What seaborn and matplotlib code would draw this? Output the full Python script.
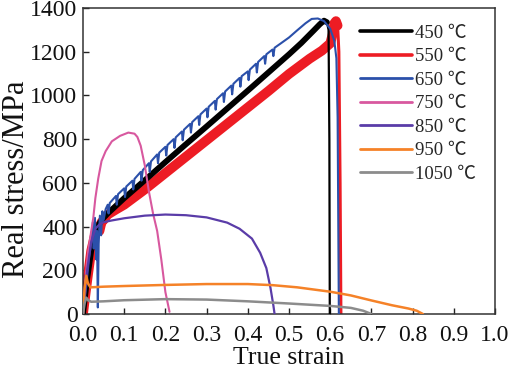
import matplotlib
matplotlib.use("Agg")
import matplotlib.pyplot as plt
from matplotlib.lines import Line2D
import seaborn as sns
import pandas as pd

# ---------------- data ----------------
labels = ["450 ℃", "550 ℃", "650 ℃", "750 ℃", "850 ℃", "950 ℃", "1050 ℃"]
colors = ["#000000", "#ed1c24", "#2b50aa", "#d8589f", "#5a3ca8", "#f58228", "#8c8c8c"]

strain_450 = [0, 0.01, 0.02, 0.03, 0.04, 0.05, 0.06, 0.1, 0.15, 0.2, 0.25, 0.3, 0.35, 0.4,
              0.45, 0.5, 0.53, 0.56, 0.575, 0.585, 0.592, 0.596, 0.598, 0.599]
stress_450 = [0, 160, 290, 370, 415, 440, 460, 530, 612, 695, 777, 858, 940, 1022,
              1105, 1188, 1240, 1297, 1326, 1342, 1335, 1300, 800, 0]

strain_550 = [0, 0.01, 0.02, 0.03, 0.035, 0.04, 0.045, 0.05, 0.06, 0.08, 0.1, 0.15, 0.2,
              0.25, 0.3, 0.35, 0.4, 0.45, 0.5, 0.55, 0.58, 0.6, 0.606, 0.61, 0.614,
              0.618, 0.621, 0.624, 0.626]
stress_550 = [0, 150, 290, 370, 400, 380, 420, 430, 455, 478, 500, 570, 645,
              720, 795, 870, 945, 1020, 1098, 1168, 1205, 1238, 1280, 1330, 1340,
              1320, 1200, 600, 0]

strain_650 = [0, 0.008, 0.015, 0.02, 0.024, 0.026, 0.029, 0.032, 0.034, 0.036, 0.038,
              0.041, 0.044, 0.047, 0.05, 0.055,
              0.06, 0.062, 0.065, 0.08, 0.082, 0.085, 0.10, 0.102, 0.105,
              0.12, 0.122, 0.125, 0.14, 0.142, 0.145, 0.16, 0.162, 0.165,
              0.18, 0.182, 0.185, 0.20, 0.202, 0.205, 0.22, 0.222, 0.225,
              0.24, 0.242, 0.245, 0.26, 0.262, 0.265, 0.28, 0.282, 0.285,
              0.30, 0.302, 0.305, 0.32, 0.322, 0.325, 0.34, 0.342, 0.345,
              0.36, 0.362, 0.365, 0.38, 0.382, 0.385, 0.40, 0.402, 0.405,
              0.42, 0.422, 0.425, 0.44, 0.442, 0.445, 0.46, 0.462, 0.465, 0.48,
              0.50, 0.52, 0.54, 0.555, 0.57, 0.585, 0.6, 0.61, 0.615, 0.618, 0.62, 0.621]
stress_650 = [0, 130, 260, 330, 420, 300, 440, 250, 380, 30, 320,
              450, 360, 470, 430, 480,
              500, 460, 508, 540, 500, 548, 575, 535, 583,
              610, 570, 618, 650, 610, 658, 690, 650, 698,
              730, 690, 738, 765, 725, 773, 800, 760, 808,
              835, 795, 843, 870, 830, 878, 905, 865, 913,
              940, 900, 948, 975, 935, 983, 1010, 970, 1018,
              1045, 1005, 1053, 1080, 1040, 1088, 1110, 1070, 1118,
              1145, 1105, 1153, 1180, 1145, 1188, 1210, 1180, 1218, 1238,
              1265, 1298, 1330, 1350, 1352, 1340, 1305, 1250, 1170, 900, 300, 0]

strain_750 = [0, 0.005, 0.012, 0.02, 0.025, 0.03, 0.037, 0.045, 0.055, 0.07, 0.09, 0.11,
              0.125, 0.132, 0.14, 0.15, 0.16, 0.17, 0.18, 0.19, 0.2, 0.21]
stress_750 = [0, 150, 280, 380, 440, 530, 620, 700, 745, 790, 815, 830,
              825, 810, 770, 680, 560, 460, 380, 250, 100, 10]

strain_850 = [0, 0.01, 0.02, 0.03, 0.04, 0.05, 0.07, 0.1, 0.15, 0.2, 0.25, 0.3, 0.35,
              0.38, 0.41, 0.43, 0.445, 0.455, 0.462, 0.465]
stress_850 = [0, 200, 330, 390, 410, 420, 428, 438, 450, 455, 452, 442, 418,
              390, 345, 280, 210, 120, 40, 0]

strain_950 = [0, 0.004, 0.008, 0.012, 0.018, 0.05, 0.1, 0.2, 0.3, 0.4, 0.46, 0.52, 0.6,
              0.65, 0.7, 0.75, 0.79, 0.81, 0.825]
stress_950 = [0, 120, 175, 140, 122, 125, 128, 133, 137, 137, 132, 122, 102,
              85, 62, 40, 25, 15, 0]

strain_1050 = [0, 0.004, 0.008, 0.013, 0.02, 0.05, 0.1, 0.2, 0.3, 0.4, 0.5, 0.6, 0.65,
               0.68, 0.7]
stress_1050 = [0, 50, 75, 62, 56, 58, 63, 68, 66, 58, 48, 37, 28, 15, 0]

x_ticks = [0.0, 0.1, 0.2, 0.3, 0.4, 0.5, 0.6, 0.7, 0.8, 0.9, 1.0]
x_tick_labels = ["0.0", "0.1", "0.2", "0.3", "0.4", "0.5", "0.6", "0.7", "0.8", "0.9", "1.0"]
y_ticks = [0, 200, 400, 600, 800, 1000, 1200, 1400]

# ---------------- style ----------------
sns.set_style("ticks")
plt.rcParams['font.family'] = ['Liberation Serif', 'Noto Sans CJK SC', 'DejaVu Serif']

fig = plt.figure(figsize=(5.12, 3.68), dpi=100)
ax = fig.add_axes([83 / 512, 54 / 368, 412 / 512, 306 / 368])


def draw(x, y, color, lw, z):
    df = pd.DataFrame({"strain": x, "stress": y})
    sns.lineplot(data=df, x="strain", y="stress", ax=ax, color=color, linewidth=lw,
                 sort=False, estimator=None, zorder=z, legend=False)


# 550 (noisy thick band, then thin fracture drop)
draw(strain_550[:26], stress_550[:26], colors[1], 7.0, 2)
draw(strain_550[19:], stress_550[19:], colors[1], 2.2, 2)
# 450
draw(strain_450[:21], stress_450[:21], colors[0], 4.2, 3)
draw(strain_450[19:], stress_450[19:], colors[0], 1.6, 3)
# 650
draw(strain_650, stress_650, colors[2], 1.5, 4)
# others
draw(strain_750, stress_750, colors[3], 1.5, 5)
draw(strain_850, stress_850, colors[4], 1.6, 5)
draw(strain_950, stress_950, colors[5], 1.8, 5)
draw(strain_1050, stress_1050, colors[6], 1.8, 5)

ax.set_xlim(0, 1.0)
ax.set_ylim(0, 1400)
ax.set_xticks(x_ticks)
ax.set_xticklabels(x_tick_labels)
ax.set_yticks(y_ticks)
ax.tick_params(direction="in", length=4, width=1, labelsize=17,
               top=False, right=False, colors="#222222", labelcolor="#111111")
ax.tick_params(axis="x", pad=8)
ax.tick_params(axis="y", pad=4)
for s in ax.spines.values():
    s.set_linewidth(1.1)
    s.set_color("#333333")

ax.set_xlabel("True strain", fontsize=18.5, labelpad=1, color="#111111")
ax.set_ylabel("Real stress/MPa", fontsize=22, color="#111111")
ax.yaxis.set_label_coords(-0.125, 0.44)

handle_lw = [2.6, 2.6, 2.0, 2.0, 2.0, 2.0, 2.0]
handles = [Line2D([], [], color=c, linewidth=w) for c, w in zip(colors, handle_lw)]
ax.legend(handles, labels, loc="upper left", bbox_to_anchor=(0.672, 0.946),
          frameon=False, fontsize=13.5, handlelength=2.8, handletextpad=0.15,
          labelspacing=0.34, borderpad=0, borderaxespad=0)

fig.savefig("out.png", dpi=100)
